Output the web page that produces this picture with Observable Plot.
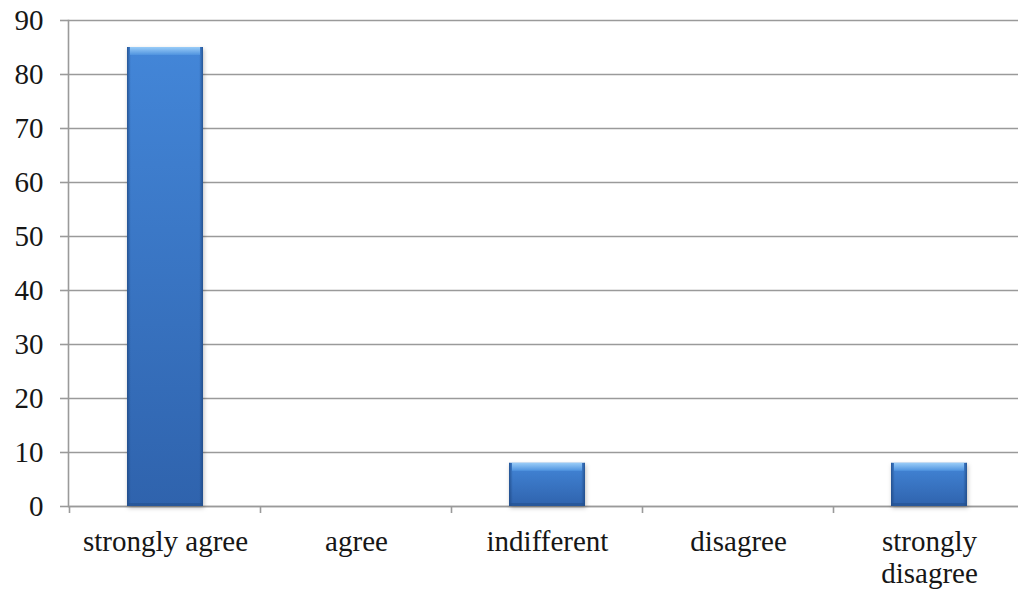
<!DOCTYPE html>
<html>
<head>
<meta charset="utf-8">
<script src="https://cdn.jsdelivr.net/npm/d3@7"></script>
<script src="https://cdn.jsdelivr.net/npm/@observablehq/plot@0.6"></script>
<style>
  html, body { margin: 0; padding: 0; background: #fff; }
  #chart svg { display: block; overflow: visible; }
  #chart svg, #chart svg text { font-family: "Liberation Serif", "Times New Roman", serif !important; }
</style>
</head>
<body>
<div id="chart"></div>
<script>
// Survey responses per answer category
const categories = ["strongly agree", "agree", "indifferent", "disagree", "strongly disagree"];
const values = [85, 0, 8, 0, 8];
const tickLabels = ["strongly agree", "agree", "indifferent", "disagree", "strongly\ndisagree"];
const yTicks = [0, 10, 20, 30, 40, 50, 60, 70, 80, 90];

const data = categories.map((c, i) => ({category: c, value: values[i]}));
const bars = data.filter(d => d.value > 0);
const labelOf = new Map(categories.map((c, i) => [c, tickLabels[i]]));

const gray = "#9a9a9a";

const chart = Plot.plot({
  width: 1018,
  height: 590,
  marginLeft: 68,
  marginRight: 0,
  marginTop: 20,
  marginBottom: 84,
  style: {fontSize: "29px", color: "#161616", background: "#fff"},
  x: {domain: categories, range: [68, 1027], paddingInner: 0.6, paddingOuter: 0.3},
  y: {domain: [0, 90]},
  marks: [
    Plot.gridY(yTicks, {stroke: gray, strokeOpacity: 1, strokeWidth: 1.6}),
    Plot.axisY(yTicks, {tickSize: 8, tickPadding: 17, stroke: gray, strokeWidth: 1.6, label: null}),
    Plot.axisX({tickSize: 0, tickPadding: 21, tickFormat: d => labelOf.get(d), lineHeight: 1.12, label: null}),
    Plot.frame({anchor: "left", stroke: gray, strokeWidth: 1.6}),
    Plot.ruleY([0], {stroke: gray, strokeWidth: 1.6}),
    // bar body
    Plot.barY(bars, {x: "category", y: "value", fill: "url(#barBody)", className: "bar-body"}),
    // darker side edges
    Plot.barY(bars, {x: "category", y: "value", fill: "url(#barSides)"}),
    // dark bottom lip
    Plot.barY(bars, {x: "category", y1: 0, y2: 0, insetTop: -3, fill: "#23508e", fillOpacity: 0.6}),
    // light top bevel
    Plot.barY(bars, {x: "category", y1: "value", y2: "value", insetBottom: -8, insetLeft: 3, insetRight: 3, fill: "url(#barBevel)"})
  ]
});

// gradients used by the bar fills
const svg = d3.select(chart);
const defs = svg.insert("defs", ":first-child");
const body = defs.append("linearGradient").attr("id", "barBody").attr("x1", 0).attr("y1", 0).attr("x2", 0).attr("y2", 1);
body.append("stop").attr("offset", "0%").attr("stop-color", "#4386d8");
body.append("stop").attr("offset", "100%").attr("stop-color", "#2f63ad");
const sides = defs.append("linearGradient").attr("id", "barSides").attr("x1", 0).attr("y1", 0).attr("x2", 1).attr("y2", 0);
sides.append("stop").attr("offset", "0%").attr("stop-color", "#1d4680").attr("stop-opacity", 0.75);
sides.append("stop").attr("offset", "5%").attr("stop-color", "#1d4680").attr("stop-opacity", 0);
sides.append("stop").attr("offset", "95%").attr("stop-color", "#1d4680").attr("stop-opacity", 0);
sides.append("stop").attr("offset", "100%").attr("stop-color", "#1d4680").attr("stop-opacity", 0.75);
const bevel = defs.append("linearGradient").attr("id", "barBevel").attr("x1", 0).attr("y1", 0).attr("x2", 0).attr("y2", 1);
bevel.append("stop").attr("offset", "0%").attr("stop-color", "#9acdf8");
bevel.append("stop").attr("offset", "100%").attr("stop-color", "#4f93df");

// soft shadow under the bars
svg.selectAll(".bar-body").style("filter", "drop-shadow(1px 2px 2px rgba(0,0,0,0.25))");

// category boundary ticks below the baseline
const xs = chart.scale("x");
const ys = chart.scale("y");
const gap = (xs.step - xs.bandwidth) / 2;
const bounds = categories.map(c => xs.apply(c) - gap).concat([xs.apply(categories[categories.length - 1]) + xs.bandwidth + gap]);
const y0 = ys.apply(0);
svg.append("g").selectAll("line").data(bounds).join("line")
  .attr("x1", d => d).attr("x2", d => d)
  .attr("y1", y0).attr("y2", y0 + 7)
  .attr("stroke", gray).attr("stroke-width", 1.6);

document.getElementById("chart").appendChild(chart);
</script>
</body>
</html>
